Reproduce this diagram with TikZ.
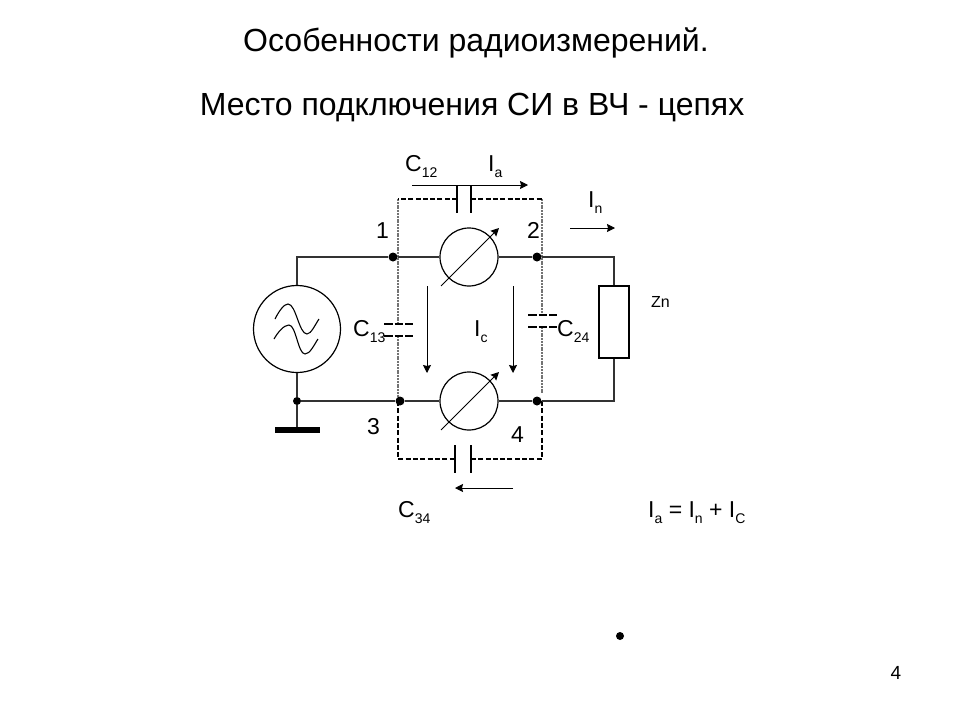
\documentclass[tikz,border=0pt]{standalone}
\usepackage{fontspec}
\setmainfont{Liberation Sans}
\usetikzlibrary{arrows.meta, positioning}

\begin{document}
\begin{tikzpicture}[x=1pt, y=-1pt]
    % Define styles
    \tikzset{
        wire/.style={line width=1.1pt, draw=black!80},
        arrow/.style={line width=1pt, -{Stealth[length=8pt,width=8pt,inset=1pt]}},
        shield/.style={line width=1.6pt, dash pattern=on 5pt off 2.3pt},
        shieldgray/.style={line width=1.2pt, draw=black!55, dash pattern=on 2pt off 0.8pt},
        plate/.style={line width=1.8pt},
        platedash/.style={line width=1.8pt, dash pattern=on 8.5pt off 2pt},
        meter/.style={circle, draw, line width=1.2pt, minimum size=58pt, inner sep=0pt},
        junction/.style={circle, fill=black, minimum size=9pt, inner sep=0pt},
        label/.style={inner sep=0pt, font=\fontsize{23}{27}\selectfont},
        title/.style={inner sep=0pt, font=\fontsize{32}{38}\selectfont}
    }
    \newcommand{\lsub}[2]{#1\raisebox{-6pt}{\fontsize{14}{14}\selectfont #2}}
    \path[use as bounding box] (0,0) rectangle (960,720);

    % Titles
    \node[title] (head) at (476,43) {Особенности радиоизмерений.};
    \node[title] (sub) at (472,108) {Место подключения СИ в ВЧ - цепях};

    % Shield corners
    \coordinate (s1) at (398,199);
    \coordinate (s2) at (542,199);
    \coordinate (s3) at (398,459);
    \coordinate (s4) at (542,459);
    \coordinate (s1b) at (398,401);
    \coordinate (s4b) at (542,401);
    \coordinate (s4c) at (542,393);
    \coordinate (c12l) at (457,199);
    \coordinate (c12r) at (471,199);
    \coordinate (c34l) at (455,459);
    \coordinate (c34r) at (471,459);
    \coordinate (c13t) at (398,324);
    \coordinate (c13b) at (398,336);
    \coordinate (c24t) at (542,315);
    \coordinate (c24b) at (542,327);

    \draw[shieldgray] (s1) -- (c13t);
    \draw[shieldgray] (c13b) -- (s1b);
    \draw[shieldgray] (s2) -- (c24t);
    \draw[shieldgray] (c24b) -- (s4c);
    \draw[shield] (c12l) -- (s1);
    \draw[shield] (c12r) -- (s2);
    \draw[shield] (s1b) -- (s3) -- (c34l);
    \draw[shield] (s4b) -- (s4) -- (c34r);

    % Create blocks
    \node[circle, draw, line width=1.2pt, minimum size=87pt, inner sep=0pt] (source) at (297,329) {};
    \node[meter] (meterA) at (469,257) {};
    \node[meter] (meterB) at (469,401) {};
    \node[rectangle, draw, line width=1.2pt, minimum width=30pt, minimum height=72pt, inner sep=0pt] (load) at (614,322) {};
    \node[junction] (j1) at (393,257) {};
    \node[junction] (j2) at (537,257) {};
    \node[junction] (j3) at (400,401) {};
    \node[junction] (j4) at (537,401) {};
    \node[junction, minimum size=8pt] (jg) at (297,401) {};
    \node[rectangle, fill=black, minimum width=45pt, minimum height=6pt, inner sep=0pt] (ground) at (297,430) {};

    \coordinate (tl) at (614,257);
    \coordinate (bl) at (614,401);
    \coordinate (stl) at (297,257);

    % Draw wires
    \draw[wire] (source.north) -- (stl) -- (j1) -- (meterA);
    \draw[wire] (meterA) -- (j2) -- (tl) -- (load.north);
    \draw[wire] (source.south) -- (jg) -- (ground.north);
    \draw[wire] (jg) -- (j3) -- (meterB);
    \draw[wire] (meterB) -- (j4) -- (bl) -- (load.south);

    % Source waves
    \draw[line width=1.1pt] (275,319) .. controls (279,311) and (284,304) .. (288,304) .. controls (296,304) and (299,334) .. (307,334) .. controls (311,334) and (315,325) .. (319,319);
    \draw[line width=1.1pt] (274,339) .. controls (278,332) and (284,325) .. (289,325) .. controls (296,325) and (298,354) .. (305,354) .. controls (310,354) and (314,345) .. (318,339);

    % Meter pointers
    \coordinate (pa1) at (441,286);
    \coordinate (pa2) at (499,228);
    \coordinate (pb1) at (441,430);
    \coordinate (pb2) at (499,372);
    \draw[arrow] (pa1) -- (pa2);
    \draw[arrow] (pb1) -- (pb2);

    % Capacitors
    \draw[plate] (457,185) -- (457,213);
    \draw[plate] (471,185) -- (471,213);
    \draw[plate] (455,445) -- (455,473);
    \draw[plate] (471,445) -- (471,473);
    \draw[platedash] (384,324) -- (413,324);
    \draw[platedash] (384,336) -- (413,336);
    \draw[platedash] (528,315) -- (557,315);
    \draw[platedash] (528,327) -- (557,327);

    % Current arrows
    \coordinate (ia1) at (412,185);
    \coordinate (ia2) at (528,185);
    \coordinate (in1) at (570,228);
    \coordinate (in2) at (615,228);
    \coordinate (ic1a) at (427,286);
    \coordinate (ic1b) at (427,373);
    \coordinate (ic2a) at (513,286);
    \coordinate (ic2b) at (513,373);
    \coordinate (ib1) at (513,488);
    \coordinate (ib2) at (455,488);
    \draw[arrow] (ia1) -- (ia2);
    \draw[arrow] (in1) -- (in2);
    \draw[arrow] (ic1a) -- (ic1b);
    \draw[arrow] (ic2a) -- (ic2b);
    \draw[arrow] (ib1) -- (ib2);

    % Labels
    \node[label, anchor=base west] (lc12) at (405,171) {\lsub{C}{12}};
    \node[label, anchor=base west] (lia) at (488,171) {\lsub{I}{a}};
    \node[label, anchor=base west] (lin) at (588,207) {\lsub{I}{n}};
    \node[label, anchor=base west] (ln1) at (376,238) {1};
    \node[label, anchor=base west] (ln2) at (527,238) {2};
    \node[label, anchor=base west] (ln3) at (367,434) {3};
    \node[label, anchor=base west] (ln4) at (511,442) {4};
    \node[label, anchor=base west] (lc13) at (353,336) {\lsub{C}{13}};
    \node[label, anchor=base west] (lc24) at (557,336) {\lsub{C}{24}};
    \node[label, anchor=base west] (lic) at (474,336) {\lsub{I}{c}};
    \node[label, anchor=base west] (lc34) at (398,517) {\lsub{C}{34}};
    \node[label, anchor=base west] (lsum) at (648,517) {\lsub{I}{a} = \lsub{I}{n} + \lsub{I}{C}};
    \node[inner sep=0pt, anchor=base west, font=\fontsize{16}{18}\selectfont] (lzn) at (651,307) {Zn};
    \node[circle, fill=black, minimum size=8pt, inner sep=0pt] (bullet) at (620,636) {};
    \node[inner sep=0pt, font=\fontsize{19}{22}\selectfont] (page) at (896,673) {4};
\end{tikzpicture}
\end{document}
